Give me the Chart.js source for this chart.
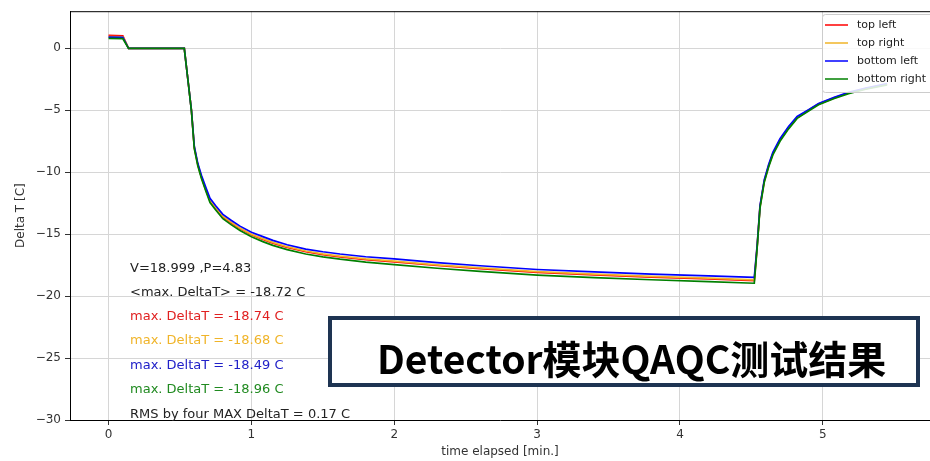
<!DOCTYPE html>
<html>
<head>
<meta charset="utf-8">
<script src="https://cdn.jsdelivr.net/npm/chart.js@4/dist/chart.umd.min.js"></script>
<style>
html, body { margin: 0; padding: 0; background: #fff; }
#wrap { width: 930px; height: 461px; }
</style>
</head>
<body>
<div id="wrap"><canvas id="grafica" width="930" height="461"></canvas></div>
<script>
// tiempos en minutos
var tiempos = [0, 0.1, 0.14, 0.3, 0.53, 0.56, 0.58, 0.6, 0.625, 0.65, 0.68, 0.71, 0.75, 0.8, 0.86, 0.92, 1.0, 1.08, 1.15, 1.25, 1.38, 1.5, 1.62, 1.8, 2.0, 2.3, 2.6, 3.0, 3.4, 3.8, 4.2, 4.52, 4.54, 4.56, 4.59, 4.62, 4.65, 4.7, 4.76, 4.82, 4.9, 4.97, 5.08, 5.18, 5.3, 5.45];

var topLeft = [1.05, 1.02, 0, 0, 0, -3.0, -5.0, -8.0, -9.4, -10.4, -11.4, -12.3, -12.9, -13.6, -14.1, -14.55, -15.05, -15.42, -15.72, -16.07, -16.42, -16.65, -16.83, -17.05, -17.24, -17.53, -17.78, -18.08, -18.28, -18.46, -18.6, -18.74, -16.0, -12.8, -10.7, -9.5, -8.5, -7.4, -6.4, -5.6, -5.0, -4.5, -4.0, -3.6, -3.25, -2.9];
var topRight = [0.95, 0.93, 0, 0, 0, -3.0, -5.0, -8.0, -9.4, -10.4, -11.35, -12.25, -12.85, -13.55, -14.05, -14.5, -15.0, -15.36, -15.66, -16.01, -16.36, -16.59, -16.77, -16.99, -17.18, -17.47, -17.72, -18.02, -18.22, -18.4, -18.54, -18.68, -16.0, -12.8, -10.7, -9.5, -8.5, -7.4, -6.4, -5.6, -5.0, -4.5, -4.0, -3.6, -3.25, -2.9];
var bottomLeft = [0.9, 0.88, 0, 0, 0, -3.0, -5.0, -7.9, -9.3, -10.25, -11.2, -12.1, -12.7, -13.4, -13.9, -14.35, -14.85, -15.2, -15.5, -15.85, -16.2, -16.42, -16.6, -16.82, -17.0, -17.3, -17.55, -17.85, -18.05, -18.22, -18.36, -18.49, -15.9, -12.7, -10.6, -9.4, -8.4, -7.3, -6.3, -5.5, -4.95, -4.45, -3.95, -3.55, -3.2, -2.85];
var bottomRight = [0.8, 0.78, 0, 0, 0, -3.0, -5.05, -8.1, -9.5, -10.5, -11.5, -12.45, -13.05, -13.75, -14.25, -14.7, -15.2, -15.6, -15.9, -16.25, -16.6, -16.83, -17.02, -17.25, -17.45, -17.75, -18.0, -18.3, -18.5, -18.68, -18.83, -18.96, -16.1, -12.9, -10.8, -9.6, -8.6, -7.5, -6.5, -5.65, -5.05, -4.55, -4.05, -3.65, -3.3, -2.95];

var nombres = ['top left', 'top right', 'bottom left', 'bottom right'];
var colores = ['#ff0000', '#f0b429', '#0000ff', '#008000'];

// textos de resultados
var notas = ['V=18.999 ,P=4.83', '<max. DeltaT> = -18.72 C', 'max. DeltaT = -18.74 C', 'max. DeltaT = -18.68 C', 'max. DeltaT = -18.49 C', 'max. DeltaT = -18.96 C', 'RMS by four MAX DeltaT = 0.17 C'];
var notasY = [-17.75, -19.7, -21.65, -23.6, -25.6, -27.55, -29.55];
var notasColor = ['#222', '#222', '#e02020', '#f0b429', '#2020c8', '#208a20', '#222'];
var titulo = 'Detector模块QAQC测试结果';

function puntos(serie) {
	return tiempos.map(function(t, i) { return { x: t, y: serie[i] }; });
}

function menos(v) {
	return String(v).replace('-', '\u2212');
}

var extras = {
	id: 'extras',
	afterDraw: function(chart) {
		var ctx = chart.ctx;
		var area = chart.chartArea;
		var sx = chart.scales.x, sy = chart.scales.y;

		// marco superior
		ctx.save();
		ctx.strokeStyle = '#000';
		ctx.lineWidth = 1;
		ctx.beginPath();
		ctx.moveTo(area.left, area.top + 0.5);
		ctx.lineTo(area.right, area.top + 0.5);
		ctx.stroke();

		// notas
		ctx.font = '13px "DejaVu Sans"';
		ctx.textBaseline = 'middle';
		ctx.textAlign = 'left';
		for (var i = 0; i < notas.length; i++) {
			ctx.fillStyle = notasColor[i];
			ctx.fillText(notas[i], sx.getPixelForValue(0.15), sy.getPixelForValue(notasY[i]));
		}

		// leyenda
		var lx = 822, ly = 14, lw = 114, lh = 78;
		ctx.fillStyle = 'rgba(255,255,255,0.85)';
		ctx.strokeStyle = '#cccccc';
		ctx.beginPath();
		ctx.roundRect(lx + 0.5, ly + 0.5, lw, lh, 3);
		ctx.fill();
		ctx.stroke();
		ctx.font = '11px "DejaVu Sans"';
		for (var j = 0; j < nombres.length; j++) {
			var yy = ly + 11 + j * 18;
			ctx.strokeStyle = colores[j];
			ctx.lineWidth = 1.5;
			ctx.beginPath();
			ctx.moveTo(lx + 3, yy);
			ctx.lineTo(lx + 26, yy);
			ctx.stroke();
			ctx.fillStyle = '#222';
			ctx.fillText(nombres[j], lx + 35, yy);
		}

		// recuadro del titulo
		ctx.fillStyle = '#fff';
		ctx.fillRect(330, 318, 588, 67);
		ctx.strokeStyle = '#1e3452';
		ctx.lineWidth = 4;
		ctx.strokeRect(330, 318, 588, 67);
		ctx.fillStyle = '#000';
		ctx.font = 'bold 39px "Noto Sans CJK SC"';
		ctx.textBaseline = 'alphabetic';
		ctx.textAlign = 'left';
		ctx.fillText(titulo, 377, 374);
		ctx.restore();
	}
};

var canvas = document.getElementById('grafica').getContext('2d');

var grafica = new Chart(canvas, {
	type: 'line',
	data: {
		datasets: nombres.map(function(n, i) {
			return {
				label: n,
				data: puntos([topLeft, topRight, bottomLeft, bottomRight][i]),
				borderColor: colores[i],
				backgroundColor: colores[i],
				borderWidth: 1.7,
				pointRadius: 0,
				tension: 0,
				order: 4 - i
			};
		})
	},
	options: {
		responsive: false,
		animation: false,
		devicePixelRatio: 1,
		layout: { padding: { top: 10, right: 0, left: 0, bottom: 0 } },
		plugins: {
			legend: { display: false },
			tooltip: { enabled: false }
		},
		scales: {
			x: {
				type: 'linear',
				min: -0.27,
				max: 5.75,
				afterFit: function(s) { s.height = 41; },
				ticks: {
					stepSize: 1,
					includeBounds: false,
					padding: 3,
					color: '#333',
					font: { family: 'DejaVu Sans', size: 12 },
					callback: function(v) { return menos(v); }
				},
				grid: { color: '#d6d6d6', tickColor: '#333', tickLength: 5 },
				border: { display: true, color: '#000', width: 1 },
				title: {
					display: true,
					text: 'time elapsed [min.]',
					color: '#333',
					font: { family: 'DejaVu Sans', size: 12 },
					padding: { top: 0, bottom: 2 }
				}
			},
			y: {
				min: -30,
				max: 3,
				afterFit: function(s) { s.width = 70; },
				ticks: {
					stepSize: 5,
					includeBounds: false,
					padding: 4,
					color: '#333',
					font: { family: 'DejaVu Sans', size: 12 },
					callback: function(v) { return menos(v); }
				},
				grid: { color: '#d6d6d6', tickColor: '#333', tickLength: 5 },
				border: { display: true, color: '#000', width: 1 },
				title: {
					display: true,
					text: 'Delta T [C]',
					color: '#333',
					font: { family: 'DejaVu Sans', size: 12 },
					padding: { top: 14, bottom: 0 }
				}
			}
		}
	},
	plugins: [extras]
});
</script>
</body>
</html>
